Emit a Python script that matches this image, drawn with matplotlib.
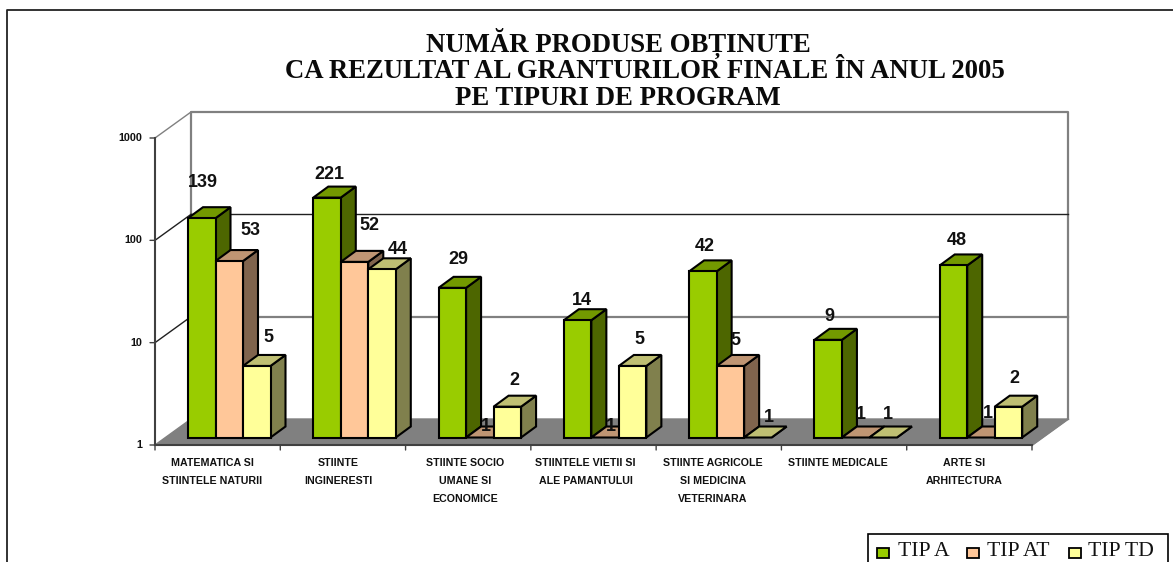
import matplotlib
matplotlib.use("Agg")
import matplotlib.pyplot as plt
import numpy as np
from matplotlib.patches import Polygon, Rectangle

W, H = 1173, 562

categories = ["MATEMATICA SI\nSTIINTELE NATURII", "STIINTE\nINGINERESTI", "STIINTE SOCIO\nUMANE SI\nECONOMICE",
              "STIINTELE VIETII SI\nALE PAMANTULUI", "STIINTE AGRICOLE\nSI MEDICINA\nVETERINARA",
              "STIINTE MEDICALE", "ARTE SI\nARHITECTURA"]
tip_a = [139, 221, 29, 14, 42, 9, 48]
tip_at = [53, 52, 1, 1, 5, 1, 1]
tip_td = [5, 44, 2, 5, 1, 1, 2]
series_names = ["TIP A", "TIP AT", "TIP TD"]
y_ticks = [1, 10, 100, 1000]
title_lines = ["NUMĂR PRODUSE OBȚINUTE", "CA REZULTAT AL GRANTURILOR FINALE ÎN ANUL 2005", "PE TIPURI DE PROGRAM"]

# colors: front, top, side
colors = [("#99CC00", "#739900", "#4D6600"),
          ("#FFC799", "#BF9573", "#80644D"),
          ("#FFFF99", "#BFBF73", "#80804D")]

# where excel left each data label, offset in px from the front top of the bar
label_offsets = [[(1, 36), (21, 31), (12, 28)],
                 [(2, 23), (15, 36), (16, 20)],
                 [(6, 28), (6, 11), (7, 26)],
                 [(4, 20), (6, 11), (7, 26)],
                 [(2, 25), (5, 25), (11, 20)],
                 [(1, 23), (5, 23), (5, 23)],
                 [(3, 25), (7, 24), (6, 28)]]
# category labels are not quite centred on their slot, px
cat_offsets = [-5.6, -5, -3, -8, -6, -6, -5]

fig = plt.figure(figsize=(W / 100, H / 100), dpi=100)
fig.patch.set_facecolor("white")

# axes covers the front of the 3d box, category units on x, log on y
left, right, y_bottom, y_top = 155, 1032, 445, 138
ax = fig.add_axes([left / W, 1 - y_bottom / H, (right - left) / W, (y_bottom - y_top) / H])
ax.set_yscale("log")
ax.set_xlim(0, len(categories))
ax.set_ylim(1, 1000)
ax.patch.set_alpha(0)
for s in ax.spines.values():
    s.set_visible(False)
ax.set_xticks([])
ax.set_yticks([])
ax.minorticks_off()

px_x = len(categories) / (right - left)
px_dec = (y_bottom - y_top) / 3


def shift(y, px):
    return y * 10 ** (px / px_dec)


def poly(pts, **kw):
    kw.setdefault("clip_on", False)
    ax.add_patch(Polygon(pts, closed=True, **kw))


# box depth
dx = 36 * px_x
dpy = 26
wall = "#808080"
top_val = y_ticks[-1]
n = len(categories)
poly([(0, 1), (n, 1), (n + dx, shift(1, dpy)), (dx, shift(1, dpy))], fc=wall, ec=wall, lw=1, zorder=1)
ax.plot([dx, dx, n + dx, n + dx], [shift(1, dpy), shift(top_val, dpy), shift(top_val, dpy), shift(1, dpy)],
        color=wall, lw=1.6, clip_on=False, zorder=1)
ax.plot([n, n + dx], [1, shift(1, dpy)], color=wall, lw=1.5, clip_on=False, zorder=1)
for v, c in zip(y_ticks[1:], ["#202020", "#202020", wall]):
    ax.plot([0, dx], [v, shift(v, dpy)], color=c, lw=1, clip_on=False, zorder=1)
ax.plot([dx, n + dx], [shift(100, dpy)] * 2, color="#202020", lw=1, clip_on=False, zorder=1)
ax.plot([dx, n + dx], [shift(10, dpy)] * 2, color=wall, lw=1.6, clip_on=False, zorder=1)

# front axes with ticks
ax.plot([0, 0], [1, top_val], color="#404040", lw=1.5, clip_on=False, zorder=1)
ax.plot([0, n], [1, 1], color="#404040", lw=1.5, clip_on=False, zorder=1)
for v in y_ticks:
    ax.annotate("", xy=(0, v), xytext=(-5, 0), textcoords="offset pixels",
                arrowprops=dict(arrowstyle="-", color="#404040", lw=1, shrinkA=0, shrinkB=0))
    ax.annotate(str(v), xy=(0, v), xytext=(-12.5, 0), textcoords="offset pixels", ha="right", va="center",
                fontsize=7.8, fontweight="bold", family="Liberation Sans", color="#111111")
for i in range(n + 1):
    ax.annotate("", xy=(i, 1), xytext=(0, -5), textcoords="offset pixels",
                arrowprops=dict(arrowstyle="-", color="#404040", lw=1, shrinkA=0, shrinkB=0))
for i, c in enumerate(categories):
    ax.annotate(c, xy=(i + 0.5, 1), xytext=(cat_offsets[i], -13), textcoords="offset pixels", ha="center", va="top",
                fontsize=7.7, fontweight="bold", family="Liberation Sans", linespacing=2.0, color="#111111")

# bars
bar_w = 27.5 * px_x
start = 33 * px_x
bar_dx = 15 * px_x
bar_dpy = 11
base_dpy = 7.5
base = shift(1, base_dpy)
z = 3
for i in range(n):
    for j, vals in enumerate([tip_a, tip_at, tip_td]):
        v = vals[i]
        x0 = i + start + j * bar_w
        x1 = x0 + bar_w
        t = shift(v, base_dpy)
        front, top, side = colors[j]
        st = dict(ec="black", lw=1.5, joinstyle="miter", zorder=z)
        poly([(x1, base), (x1 + bar_dx, shift(base, bar_dpy)), (x1 + bar_dx, shift(t, bar_dpy)), (x1, t)], fc=side, **st)
        poly([(x0, t), (x1, t), (x1 + bar_dx, shift(t, bar_dpy)), (x0 + bar_dx, shift(t, bar_dpy))], fc=top, **st)
        if v > 1:
            ax.bar(x0, t - base, bottom=base, width=bar_w, align="edge", color=front, edgecolor="black",
                   linewidth=1.5, zorder=z, clip_on=False)
        z += 1
        off = label_offsets[i][j]
        ax.annotate(str(v), xy=((x0 + x1) / 2, t), xytext=off, textcoords="offset pixels", ha="center", va="center",
                    fontsize=13, fontweight="bold", family="Liberation Sans", color="#111111", zorder=100)

# page frame, title, legend in figure px
frame = fig.add_axes([0, 0, 1, 1], zorder=-1)
frame.set_xlim(0, W)
frame.set_ylim(H, 0)
frame.axis("off")
frame.plot([7, 7, W], [H, 10, 10], color="#222222", lw=1.3, clip_on=False)
for line, x, y in zip(title_lines, [618, 644.5, 617.5], [52, 78, 105]):
    fig.text(x / W, 1 - y / H, line, ha="center", va="baseline", fontsize=19.3, fontweight="bold",
             family="Liberation Serif", color="#0a0a0a")

leg = fig.add_axes([0, 0, 1, 1], zorder=5)
leg.set_xlim(0, W)
leg.set_ylim(H, 0)
leg.axis("off")
leg.patch.set_alpha(0)
leg.add_patch(Rectangle((868, 534), 300, 40, fc="white", ec="black", lw=1.2, clip_on=True))
for name, c, bx, tx in zip(series_names, colors, [877, 967, 1069], [898, 987, 1088]):
    leg.add_patch(Rectangle((bx, 548), 12, 10, fc=c[0], ec="black", lw=1.3))
    leg.text(tx, 552, name, ha="left", va="center", fontsize=15.6, family="Liberation Serif", color="#111111")

fig.savefig("out.png", dpi=100)
